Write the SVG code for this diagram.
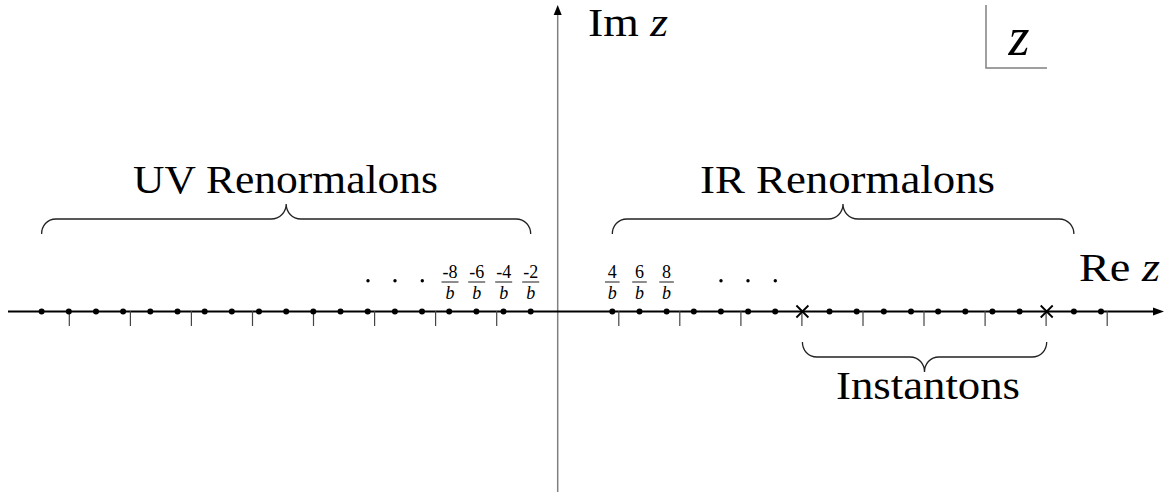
<svg xmlns="http://www.w3.org/2000/svg" width="1164" height="492" viewBox="0 0 1164 492">
<style>
.lbl{font-family:"Liberation Serif","Times New Roman",serif;font-size:40px;fill:#000}
.it{font-style:italic}
.fr{font-family:"Liberation Serif","Times New Roman",serif;font-size:18px;fill:#000;text-anchor:middle}
.bar{stroke:#000;stroke-width:0.9}
.tick{stroke:#444;stroke-width:1.2}
.brace{fill:none;stroke:#222;stroke-width:1.3}
.cross{stroke:#000;stroke-width:1.8}
</style>
<rect width="1164" height="492" fill="#fff"/>
<g id="axes">
  <line x1="557.7" y1="492" x2="557.7" y2="14" stroke="#808080" stroke-width="1.5"/>
  <polygon points="557.7,5 553.7,15 561.7,15" fill="#000"/>
  <line x1="8" y1="311.5" x2="1155" y2="311.5" stroke="#000" stroke-width="2"/>
  <polygon points="1164,311.5 1153,307.5 1153,315.5" fill="#000"/>
</g>
<g id="ticks">
  <line class="tick" x1="69.3" y1="311" x2="69.3" y2="326"/>
  <line class="tick" x1="130.4" y1="311" x2="130.4" y2="326"/>
  <line class="tick" x1="191.4" y1="311" x2="191.4" y2="326"/>
  <line class="tick" x1="252.5" y1="311" x2="252.5" y2="326"/>
  <line class="tick" x1="313.5" y1="311" x2="313.5" y2="326"/>
  <line class="tick" x1="374.6" y1="311" x2="374.6" y2="326"/>
  <line class="tick" x1="435.6" y1="311" x2="435.6" y2="326"/>
  <line class="tick" x1="496.7" y1="311" x2="496.7" y2="326"/>
  <line class="tick" x1="618.8" y1="311" x2="618.8" y2="326"/>
  <line class="tick" x1="679.8" y1="311" x2="679.8" y2="326"/>
  <line class="tick" x1="740.9" y1="311" x2="740.9" y2="326"/>
  <line class="tick" x1="801.9" y1="311" x2="801.9" y2="326"/>
  <line class="tick" x1="863" y1="311" x2="863" y2="326"/>
  <line class="tick" x1="924" y1="311" x2="924" y2="326"/>
  <line class="tick" x1="985.1" y1="311" x2="985.1" y2="326"/>
  <line class="tick" x1="1046.1" y1="311" x2="1046.1" y2="326"/>
  <line class="tick" x1="1107.2" y1="311" x2="1107.2" y2="326"/>
</g>
<g id="uv-poles" fill="#000">
  <circle cx="530.7" cy="311.5" r="3"/><circle cx="503.5" cy="311.5" r="3"/><circle cx="476.4" cy="311.5" r="3"/>
  <circle cx="449.2" cy="311.5" r="3"/><circle cx="422" cy="311.5" r="3"/><circle cx="394.9" cy="311.5" r="3"/>
  <circle cx="367.7" cy="311.5" r="3"/><circle cx="340.5" cy="311.5" r="3"/><circle cx="313.3" cy="311.5" r="3"/>
  <circle cx="286.2" cy="311.5" r="3"/><circle cx="259" cy="311.5" r="3"/><circle cx="231.8" cy="311.5" r="3"/>
  <circle cx="204.7" cy="311.5" r="3"/><circle cx="177.5" cy="311.5" r="3"/><circle cx="150.3" cy="311.5" r="3"/>
  <circle cx="123.1" cy="311.5" r="3"/><circle cx="96" cy="311.5" r="3"/><circle cx="68.8" cy="311.5" r="3"/>
  <circle cx="41.6" cy="311.5" r="3"/>
  <circle cx="368" cy="280.7" r="1.7"/><circle cx="395" cy="280.7" r="1.7"/><circle cx="422.3" cy="280.7" r="1.7"/>
</g>
<g id="ir-poles" fill="#000">
  <circle cx="612.3" cy="311.5" r="3"/><circle cx="639.5" cy="311.5" r="3"/><circle cx="666.6" cy="311.5" r="3"/>
  <circle cx="693.8" cy="311.5" r="3"/><circle cx="720.9" cy="311.5" r="3"/><circle cx="748.1" cy="311.5" r="3"/>
  <circle cx="775.2" cy="311.5" r="3"/><circle cx="829.5" cy="311.5" r="3"/><circle cx="856.7" cy="311.5" r="3"/>
  <circle cx="883.8" cy="311.5" r="3"/><circle cx="911" cy="311.5" r="3"/><circle cx="938.1" cy="311.5" r="3"/>
  <circle cx="965.3" cy="311.5" r="3"/><circle cx="992.4" cy="311.5" r="3"/><circle cx="1019.6" cy="311.5" r="3"/>
  <circle cx="1073.9" cy="311.5" r="3"/><circle cx="1101" cy="311.5" r="3"/>
  <circle cx="721" cy="280.7" r="1.7"/><circle cx="748" cy="280.7" r="1.7"/><circle cx="775.3" cy="280.7" r="1.7"/>
</g>
<g id="instantons-poles">
  <path class="cross" d="M796.4 305.5 L808.4 317.5 M796.4 317.5 L808.4 305.5"/>
  <path class="cross" d="M1040.7 305.5 L1052.7 317.5 M1040.7 317.5 L1052.7 305.5"/>
</g>
<g id="fractions">
  <g id="f-8"><text class="fr" x="450" y="278">-8</text><line class="bar" x1="441.5" y1="282" x2="458.5" y2="282"/><text class="fr it" x="450" y="298.5">b</text></g>
  <g id="f-6"><text class="fr" x="476.7" y="278">-6</text><line class="bar" x1="468.2" y1="282" x2="485.2" y2="282"/><text class="fr it" x="476.7" y="298.5">b</text></g>
  <g id="f-4"><text class="fr" x="503.7" y="278">-4</text><line class="bar" x1="495.2" y1="282" x2="512.2" y2="282"/><text class="fr it" x="503.7" y="298.5">b</text></g>
  <g id="f-2"><text class="fr" x="530.7" y="278">-2</text><line class="bar" x1="522.2" y1="282" x2="539.2" y2="282"/><text class="fr it" x="530.7" y="298.5">b</text></g>
  <g id="f4"><text class="fr" x="612.3" y="278">4</text><line class="bar" x1="605" y1="282" x2="619.6" y2="282"/><text class="fr it" x="612.3" y="298.5">b</text></g>
  <g id="f6"><text class="fr" x="639.5" y="278">6</text><line class="bar" x1="632.2" y1="282" x2="646.8" y2="282"/><text class="fr it" x="639.5" y="298.5">b</text></g>
  <g id="f8"><text class="fr" x="666.6" y="278">8</text><line class="bar" x1="659.3" y1="282" x2="673.9" y2="282"/><text class="fr it" x="666.6" y="298.5">b</text></g>
</g>
<g id="braces">
  <path class="brace" d="M41.6 234 C41.6 226 47 219 56 219 H271 C280 219 286.2 212 286.2 204 C286.2 212 292 219 301 219 H516 C525 219 530.7 226 530.7 234"/>
  <path class="brace" d="M612.3 234 C612.3 226 618 219 627 219 H828 C837 219 843 212 843 204 C843 212 849 219 858 219 H1059 C1068 219 1073.9 226 1073.9 234"/>
  <path class="brace" d="M802.4 342 C802.4 350 808 357 817 357 H910 C919 357 924.5 364 924.5 372 C924.5 364 930 357 939 357 H1032 C1041 357 1046.7 350 1046.7 342"/>
</g>
<g id="labels">
  <text id="uv" class="lbl" x="133" y="193" textLength="305" lengthAdjust="spacingAndGlyphs">UV Renormalons</text>
  <text id="ir" class="lbl" x="700" y="193" textLength="295" lengthAdjust="spacingAndGlyphs">IR Renormalons</text>
  <text id="inst" class="lbl" x="836" y="399" textLength="184" lengthAdjust="spacingAndGlyphs">Instantons</text>
  <text id="im" class="lbl" x="588" y="36" textLength="80" lengthAdjust="spacingAndGlyphs">Im <tspan class="it">z</tspan></text>
  <text id="re" class="lbl" x="1079" y="281" textLength="81" lengthAdjust="spacingAndGlyphs">Re <tspan class="it">z</tspan></text>
</g>
<g id="zbox">
  <polyline points="986,5 986,68 1047,68" fill="none" stroke="#808080" stroke-width="1.5"/>
  <text class="lbl it" x="1019" y="55" text-anchor="middle" style="font-size:54px">z</text>
</g>
</svg>
